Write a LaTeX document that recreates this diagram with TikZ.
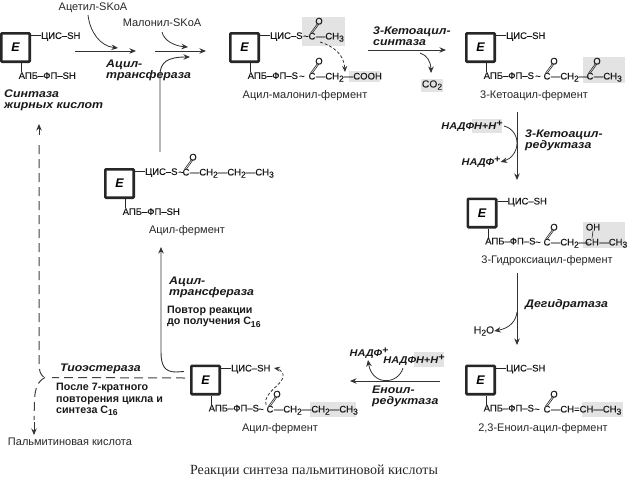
\documentclass[tikz,border=0pt]{standalone}
\usepackage{fontspec}
\setmainfont{Liberation Sans}
\newfontfamily\capfont{Liberation Serif}
\newfontfamily\chemfont[FakeBold=0.25]{Liberation Sans}
\newfontfamily\italfont[FakeStretch=1.12]{Liberation Sans}
\usetikzlibrary{arrows.meta}

\newcommand{\low}[1]{\raisebox{-2.2pt}{\fontsize{8.6}{8.6}\selectfont #1}}
\newcommand{\high}[1]{\raisebox{3pt}{\fontsize{9.5}{9.5}\selectfont #1}}
\newcommand{\acyl}[4]{
  \node[chem] (#1) at (#2,#3) {C};
  \node[chem] (#1o) at ([shift={(7,-15)}]#1.center) {O};
  \draw[bond] ([xshift=-1.6pt,yshift=-1pt]#1.north) -- ([xshift=-1.6pt,yshift=1pt]#1o.south);
  \draw[bond] ([xshift=0.2pt,yshift=-1pt]#1.north) -- ([xshift=0.2pt,yshift=1pt]#1o.south);
  \node[chem,anchor=west] (#1r) at (#1.east) {#4};
}

\begin{document}
\begin{tikzpicture}[x=1pt,y=-1pt,
  enz/.style={draw=black!85,line width=2.6pt,rounded corners=0.8pt,minimum size=28.4pt,inner sep=0pt,
    font=\fontsize{12.5}{12}\selectfont\bfseries\itshape},
  chem/.style={inner sep=0pt,font=\fontsize{9.5}{10}\chemfont,text height=6.9pt,text depth=0pt,text=black!90},
  lbl/.style={inner sep=0pt,align=left,font=\fontsize{10.3}{12}\chemfont,text=black!85},
  ferment/.style={inner sep=0pt,font=\fontsize{11}{12}\selectfont,text=black!85},
  note/.style={inner sep=0pt,align=left,font=\fontsize{10.7}{11.6}\selectfont\bfseries,text=black!90},
  ital/.style={inner sep=0pt,align=left,font=\fontsize{11}{11.2}\italfont\bfseries\itshape,text=black!90},
  cof/.style={ital,font=\fontsize{9.8}{11}\italfont\bfseries\itshape},
  bond/.style={line width=0.6pt,black!85},
  greybox/.style={fill=black!11,draw=none},
  rx/.style={line width=0.9pt,black!80,-{Stealth[length=6.5pt,width=5.5pt]}},
  dashline/.style={line width=1pt,black!75,dash pattern=on 9pt off 5pt},
  dots/.style={line width=0.8pt,black!80,densely dashed,-{Stealth[length=6pt,width=5pt]}}]
\useasboundingbox (0,0) rectangle (628,479);

% grey parts of the formulas
\fill[greybox] (302,17) rectangle (345,46);
\fill[greybox] (349,71) rectangle (380,82);
\fill[greybox] (421,79) rectangle (443,92);
\fill[greybox] (583,57) rectangle (625,83);
\fill[greybox] (472,119) rectangle (502,133);
\fill[greybox] (583,222) rectangle (625,248);
\fill[greybox] (582,402) rectangle (623,417);
\fill[greybox] (414,352) rectangle (444,367);
\fill[greybox] (310,402) rectangle (356,417);

% enzyme boxes with both arms
\foreach \n/\x/\y/\t/\b in {e1/15.5/47.5/ЦИС–SH/АПБ–ФП–SH,
  e2/244.5/47.5/ЦИС–S/АПБ–ФП–S,
  e3/480.5/47.5/ЦИС–SH/АПБ–ФП–S,
  e4/482/213/ЦИС–SH/АПБ–ФП–S,
  e5/480.5/380/ЦИС–SH/АПБ–ФП–S,
  e6/205.5/380/ЦИС–SH/АПБ–ФП–S,
  e7/119.5/183.5/ЦИС–S/АПБ–ФП–SH}{
  \node[enz] (\n) at (\x,\y) {E};
  \node[chem,anchor=west] (\n top) at ([shift={(10,3.5)}]\n.north east) {\t};
  \draw[bond] ([yshift=-3.5pt]\n.north east) -- (\n top.west);
  \node[chem,anchor=west] (\n low) at ([shift={(3,12.5)}]\n.south) {\b};
  \draw[bond] ([xshift=6pt]\n.south) -- ++(0,9);
}

% formulas
\node[chem] (s2) at (306,36) {\textasciitilde};
\acyl{c2}{312}{36}{—CH\low{3}}
\node[chem] (s2b) at (302,76) {\textasciitilde};
\acyl{m2}{312}{76}{—CH\low{2}—COOH}
\node[chem] (s3) at (538,76) {\textasciitilde};
\acyl{c3}{547}{76}{—CH\low{2}—}
\acyl{k3}{590}{76}{—CH\low{3}}
\node[chem] (s4) at (538,242) {\textasciitilde};
\acyl{c4}{547}{242}{—CH\low{2}—}
\node[chem] (h4) at (592,242) {CH};
\node[chem,anchor=west] (h4r) at (h4.east) {—CH\low{3}};
\node[chem] (h4o) at (593,227) {OH};
\draw[bond] (h4.north) -- (h4o.south);
\node[chem] (s5) at (537,409) {\textasciitilde};
\acyl{c5}{547}{409}{—CH=CH—CH\low{3}}
\node[chem] (s6) at (261,409) {\textasciitilde};
\acyl{c6}{270}{409}{—CH\low{2}—CH\low{2}—CH\low{3}}
\node[chem] (s7) at (181,172) {\textasciitilde};
\acyl{c7}{186}{172}{—CH\low{2}—CH\low{2}—CH\low{3}}

% names under the formulas
\node[ferment] (f2) at (305,96) {Ацил-малонил-фермент};
\node[ferment] (f3) at (534,96) {3-Кетоацил-фермент};
\node[ferment] (f4) at (547,261) {3-Гидроксиацил-фермент};
\node[ferment] (f5) at (543,429) {2,3-Еноил-ацил-фермент};
\node[ferment] (f6) at (280,429) {Ацил-фермент};
\node[ferment] (f7) at (187,231) {Ацил-фермент};
\node[ferment] (acetyl) at (93,8) {Ацетил-SKoA};
\node[ferment] (malonyl) at (162,23) {Малонил-SKoA};
\node[ferment] (palm) at (70,442) {Пальмитиновая кислота};
\node[inner sep=0pt,font=\fontsize{14}{15}\capfont,text=black!85] (caption) at (314,471) {Реакции синтеза пальмитиновой кислоты};

% enzymes and cofactors
\node[ital,anchor=west] (at1) at (106,70) {Ацил-\\трансфераза};
\node[ital,anchor=west] (sfa) at (4,100.5) {Синтаза\\жирных кислот};
\node[ital,anchor=west] (ks) at (373,36.5) {3-Кетоацил-\\синтаза};
\node[ital,anchor=west] (kr) at (525,140.5) {3-Кетоацил-\\редуктаза};
\node[ital,anchor=west] (dh) at (525,305) {Дегидратаза};
\node[ital,anchor=west] (er) at (372,396.5) {Еноил-\\редуктаза};
\node[ital,anchor=west] (te) at (60,369) {Тиоэстераза};
\node[ital,anchor=west] (at2) at (169,287.5) {Ацил-\\трансфераза};
\node[note,anchor=west] (rep) at (167,316.5) {Повтор реакции\\до получения C\low{16}};
\node[note,anchor=west] (after) at (56,399.5) {После 7-кратного\\повторения цикла и\\синтеза C\low{16}};
\node[cof] (nh1) at (472,126) {НАДФН+Н\high{+}};
\node[cof] (np1) at (481,162) {НАДФ\high{+}};
\node[cof] (nh2) at (414,360) {НАДФН+Н\high{+}};
\node[cof] (np2) at (369,353) {НАДФ\high{+}};
\node[lbl] (co2) at (432,85) {CO\low{2}};
\node[lbl] (h2o) at (484,331) {H\low{2}O};

% free ends of the arrows
\coordinate (a1s) at (75,51);
\coordinate (a1e) at (136,51);
\coordinate (a2s) at (155,51);
\coordinate (a2e) at (206,51);
\coordinate (a3s) at (368,50);
\coordinate (a3e) at (446,50);
\coordinate (v1s) at (517,112);
\coordinate (v1e) at (517,180);
\coordinate (v2s) at (517,273);
\coordinate (v2e) at (517,345);
\coordinate (h1s) at (440,381);
\coordinate (h1e) at (350,381);
\coordinate (up) at (161,247);
\coordinate (back) at (160,152);
\coordinate (backe) at (190,57);
\coordinate (sfae) at (39,124);
\coordinate (fork) at (45,377.5);

% main route
\draw[rx] (a1s) -- (a1e);
\draw[rx] (a2s) -- (a2e);
\draw[rx] (a3s) -- (a3e);
\draw[rx] (v1s) -- (v1e);
\draw[rx] (v2s) -- (v2e);
\draw[rx] (h1s) -- (h1e);
\draw[rx] ([shift={(-6,7)}]e6.north west) -- (176,372) .. controls (165,372) and (161,366) .. (161,352) -- (up);
\draw[rx] (back) -- (160,75) .. controls (160,62) and (168,57) .. (backe);

% side arrows
\draw[rx,line width=0.8pt] (88,15) .. controls (90,32) and (100,46) .. (118,48);
\draw[rx,line width=0.8pt] (162,32) .. controls (164,41) and (175,46) .. (188,47);
\draw[rx,line width=0.8pt] (420,53) .. controls (427,55) and (431,62) .. (431,73);
\draw[rx,line width=0.8pt] (504,126) .. controls (512,128) and (517,135) .. (517,143) .. controls (517,152) and (511,159) .. (np1.east);
\draw[rx,line width=0.8pt] (517,312) .. controls (516,321) and (510,328) .. (h2o.east);
\draw[rx,line width=0.8pt] (403,368) .. controls (398,385) and (372,386) .. (368,360);

% dotted transfers
\draw[dots] (320,42) .. controls (333,46) and (344,54) .. (345,72);
\draw[dots] (266,405) .. controls (262,392) and (286,384) .. (283,374) .. controls (282,371) and (279,369) .. (274,368);

% release of the acid
\draw[dashline] ([shift={(-5,-2)}]e6.west) -- (52,377.5);
\draw[dashline] (39,145) -- (39,362) .. controls (39,372) and (41,376) .. (fork);
\draw[dashline] (fork) .. controls (38,381) and (35,388) .. (34.5,400) -- (34,420);
\draw[rx] (39,135) -- (sfae);
\draw[rx] (34,422) -- (34,435);
\end{tikzpicture}
\end{document}
